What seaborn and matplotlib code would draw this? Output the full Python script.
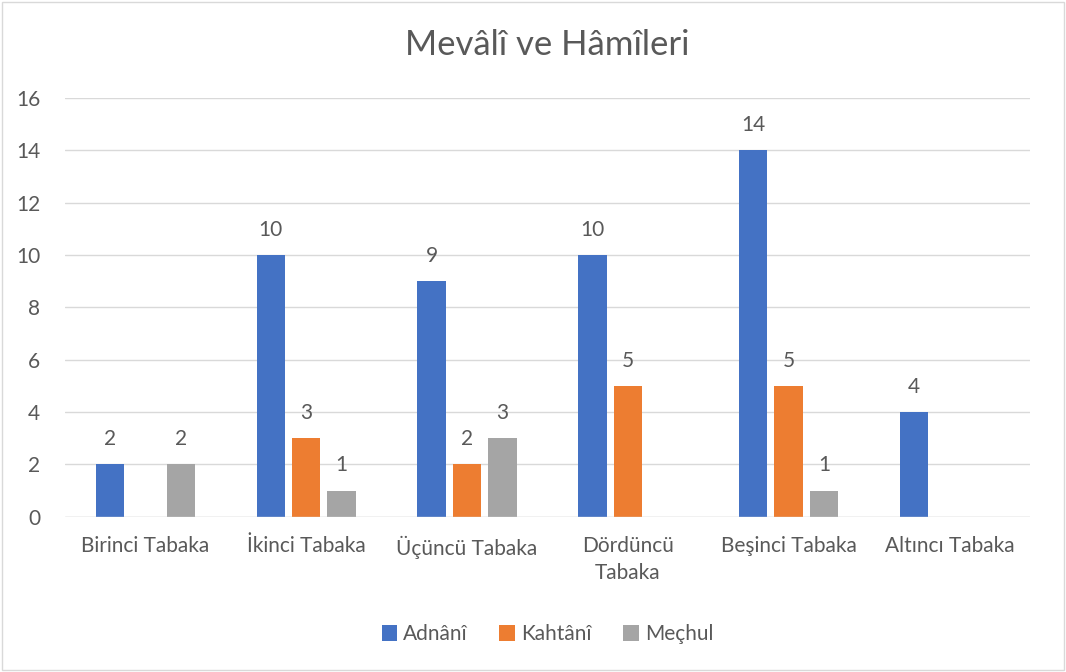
import pandas as pd
import matplotlib.pyplot as plt
import matplotlib.patches as mpatches
import seaborn as sns

categories = ['Birinci Tabaka', 'İkinci Tabaka', 'Üçüncü Tabaka',
              'Dördüncü\nTabaka', 'Beşinci Tabaka', 'Altıncı Tabaka']
series = ['Adnânî', 'Kahtânî', 'Meçhul']
adnani = [2, 10, 9, 10, 14, 4]
kahtani = [None, 3, 2, 5, 5, None]
mechul = [2, 1, 3, None, 1, None]
colors = ['#4472C4', '#ED7D31', '#A5A5A5']

rows = []
for name, vals in zip(series, [adnani, kahtani, mechul]):
    for cat, v in zip(categories, vals):
        rows.append({'cat': cat, 'series': name, 'value': v})
df = pd.DataFrame(rows).dropna()

sns.set_style('white')
plt.rcParams['font.family'] = ['Lato', 'DejaVu Sans']
text_color = '#595959'

fig = plt.figure(figsize=(10.66, 6.72), dpi=100)
ax = fig.add_axes([0.061, 0.231, 0.905, 0.623])

sns.barplot(data=df, x='cat', y='value', hue='series', order=categories,
            hue_order=series, palette=colors, saturation=1, width=0.66,
            gap=0.2, linewidth=0, ax=ax, legend=True)

for cont in ax.containers:
    ax.bar_label(cont, fmt='%g', padding=11, fontsize=15, color=text_color)

ax.set_ylim(0, 16)
ax.set_xlim(-0.5, len(categories) - 0.5)
ax.set_yticks(range(0, 17, 2))
ax.yaxis.grid(True, color='#d9d9d9', linewidth=1)
ax.set_axisbelow(True)
for s in ax.spines.values():
    s.set_visible(False)
ax.set_xlabel('')
ax.set_ylabel('')
ax.tick_params(axis='both', length=0, labelsize=15, labelcolor=text_color)
ax.tick_params(axis='x', pad=14)
ax.tick_params(axis='y', pad=18)
for lab in ax.get_xticklabels():
    lab.set_linespacing(1.45)
ax.axhline(0, color='#d9d9d9', linewidth=1)

ax.set_title('Mevâlî ve Hâmîleri', fontsize=25, color=text_color, pad=31)

ax.legend(loc='upper center', bbox_to_anchor=(0.5, -0.212), ncol=3,
          frameon=False, fontsize=15, labelcolor=text_color,
          handlelength=0.75, handleheight=0.75, handletextpad=0.3,
          columnspacing=1.5)

fig.patches.append(mpatches.Rectangle((0.002, 0.003), 0.996, 0.994,
                                      transform=fig.transFigure, fill=False,
                                      edgecolor='#d9d9d9', linewidth=1))

fig.savefig('out.png', dpi=100)
